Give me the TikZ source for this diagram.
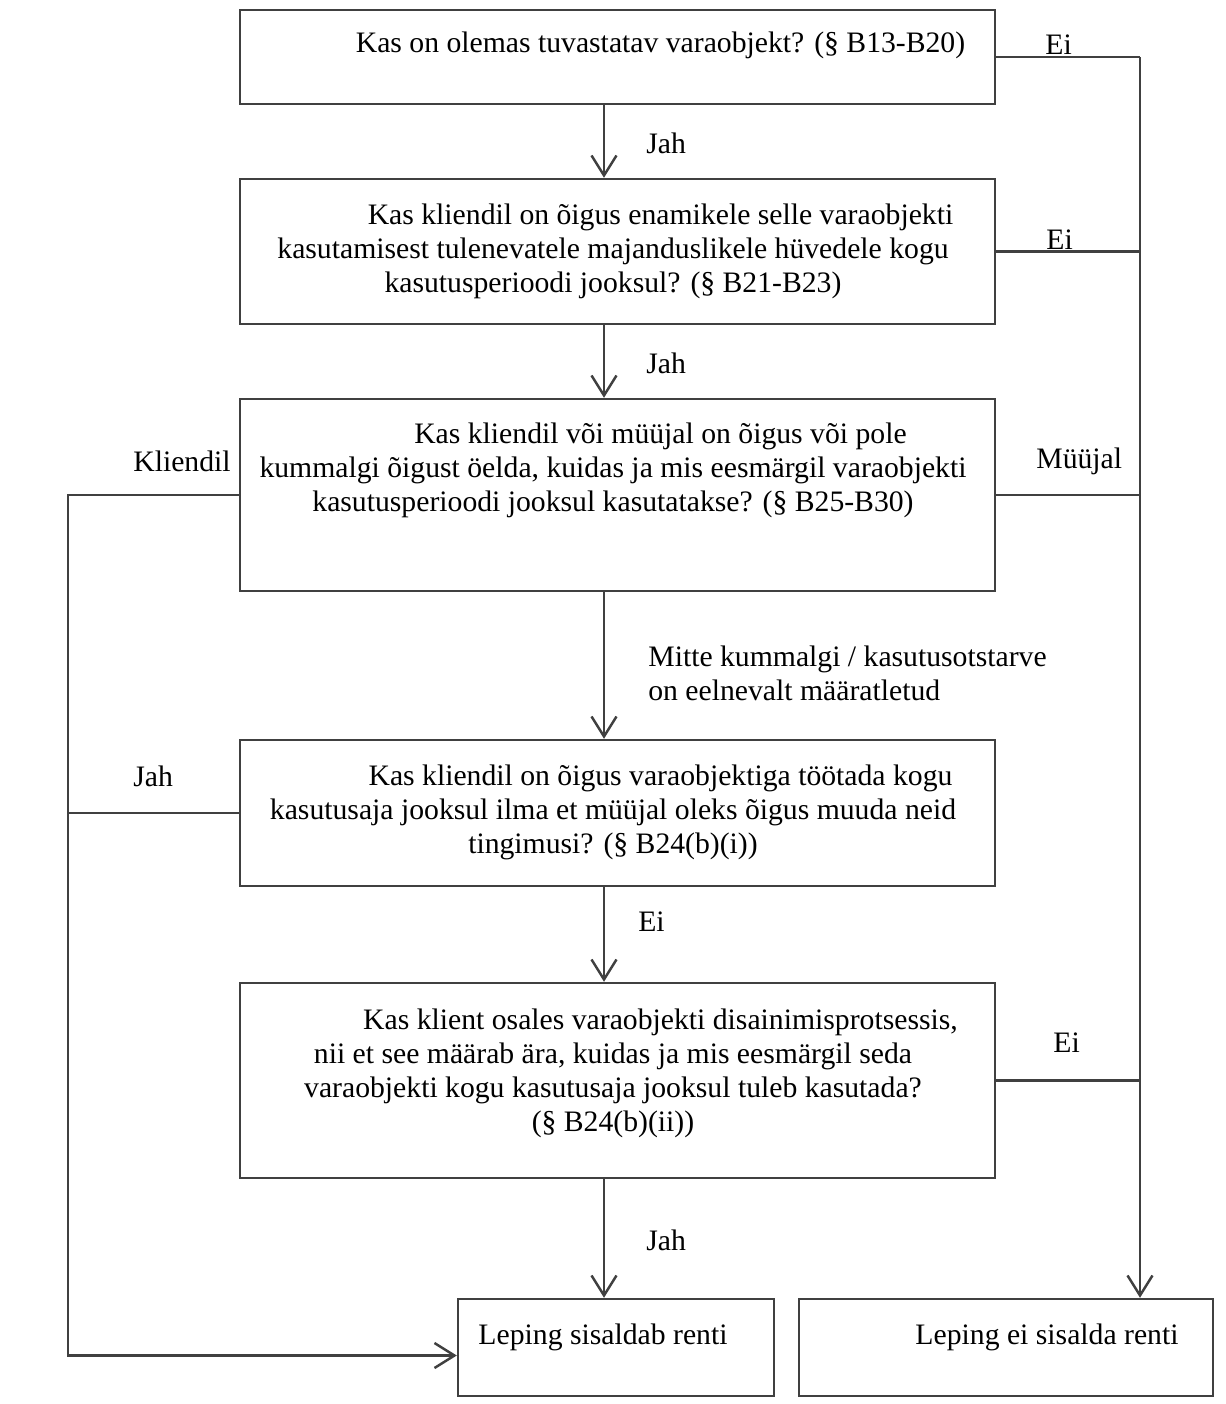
\documentclass[tikz,border=0pt]{standalone}
\usepackage{fontspec}
\setmainfont{Liberation Serif}
\usetikzlibrary{arrows.meta}
\begin{document}
\begin{tikzpicture}[>={Straight Barb[length=0.4cm,width=0.5cm]},x=0.02cm,y=-0.02cm,
	box/.style={draw=black!75,line width=1.4pt,minimum width=15.1cm,inner sep=0pt},
	txt/.style={align=center,inner sep=0pt,font=\fontsize{16.9}{19.3}\selectfont},
	lbl/.style={anchor=west,inner sep=0pt,font=\fontsize{16.9}{19.3}\selectfont},
	wire/.style={draw=black!75,line width=1.4pt}]
		\useasboundingbox (0,0) rectangle (1225,1404);
		\def\ind{\hspace*{1.9cm}}
		\coordinate (mid) at (604,0);
		\coordinate (rr) at (1140,0);
		\coordinate (ll) at (68,0);
		% boxes
		\node[box,minimum height=1.88cm] (q1) at (617.5,57) {};
		\node[box,minimum height=2.9cm] (q2) at (617.5,251.5) {};
		\node[box,minimum height=3.84cm] (q3) at (617.5,495) {};
		\node[box,minimum height=2.92cm] (q4) at (617.5,813) {};
		\node[box,minimum height=3.9cm] (q5) at (617.5,1080.5) {};
		\node[box,minimum width=6.32cm,minimum height=1.94cm] (q6) at (616,1347.5) {};
		\node[box,minimum width=8.28cm,minimum height=1.94cm] (q7) at (1006,1347.5) {};
		% box texts
		\node[txt] (t1) at (613,45) {\ind Kas on olemas tuvastatav varaobjekt? (§ B13-B20)};
		\node[txt] (t2) at (613,251) {\ind Kas kliendil on õigus enamikele selle varaobjekti\\kasutamisest tulenevatele majanduslikele hüvedele kogu\\kasutusperioodi jooksul? (§ B21-B23)};
		\node[txt] (t3) at (613,470) {\ind Kas kliendil või müüjal on õigus või pole\\kummalgi õigust öelda, kuidas ja mis eesmärgil varaobjekti\\kasutusperioodi jooksul kasutatakse? (§ B25-B30)};
		\node[txt] (t4) at (613,812.5) {\ind Kas kliendil on õigus varaobjektiga töötada kogu\\kasutusaja jooksul ilma et müüjal oleks õigus muuda neid\\tingimusi? (§ B24(b)(i))};
		\node[txt] (t5) at (613,1073) {\ind Kas klient osales varaobjekti disainimisprotsessis,\\nii et see määrab ära, kuidas ja mis eesmärgil seda\\varaobjekti kogu kasutusaja jooksul tuleb kasutada?\\(§ B24(b)(ii))};
		\node[txt] (t6) at (603,1337) {Leping sisaldab renti};
		\node[txt] (t7) at (1047,1337) {Leping ei sisalda renti};
		% main flow
		\draw[wire,->] (q1.south -| mid) -- (q2.north -| mid);
		\draw[wire,->] (q2.south -| mid) -- (q3.north -| mid);
		\draw[wire,->] (q3.south -| mid) -- (q4.north -| mid);
		\draw[wire,->] (q4.south -| mid) -- (q5.north -| mid);
		\draw[wire,->] (q5.south -| mid) -- (q6.north -| mid);
		% right side
		\draw[wire] (q1.east) -- (q1.east -| rr);
		\draw[wire,->] (q1.east -| rr) -- (q7.north -| rr);
		\draw[wire] (q2.east) -- (q2.east -| rr);
		\draw[wire] (q3.east) -- (q3.east -| rr);
		\draw[wire] (q5.east) -- (q5.east -| rr);
		% left side
		\coordinate (in6) at ([yshift=-0.16cm]q6.west);
		\draw[wire] (q4.west) -- (q4.west -| ll);
		\draw[wire,->] (q3.west) -- (q3.west -| ll) -- (ll |- in6) -- (in6);
		% labels
		\node[lbl] (e1) at (1045,45) {Ei};
		\node[lbl] (j1) at (646,143) {Jah};
		\node[lbl] (e2) at (1046,240) {Ei};
		\node[lbl] (j2) at (646,363) {Jah};
		\node[lbl] (kl) at (133,461) {Kliendil};
		\node[lbl] (mu) at (1036,461) {Müüjal};
		\node[lbl,align=left] (mk) at (648,673) {Mitte kummalgi / kasutusotstarve\\on eelnevalt määratletud};
		\node[lbl] (j3) at (133,776) {Jah};
		\node[lbl] (e3) at (638,922) {Ei};
		\node[lbl] (e4) at (1053,1043) {Ei};
		\node[lbl] (j4) at (646,1240) {Jah};
\end{tikzpicture}
\end{document}
